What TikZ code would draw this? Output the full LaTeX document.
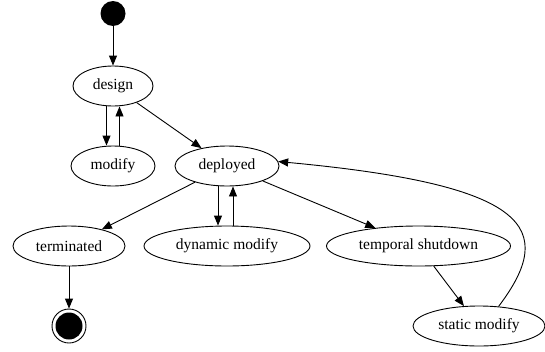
\documentclass[tikz,border=0pt]{standalone}
\usepackage{fontspec}
\setmainfont{Liberation Serif}
\usetikzlibrary{shapes.geometric,arrows.meta}
\begin{document}
\begin{tikzpicture}[x=1pt,y=-1pt,
  state/.style={ellipse,draw,line width=0.9pt,inner sep=0pt,minimum height=40pt,font=\fontsize{15.5}{18}\selectfont},
  conn/.style={line width=0.9pt,-{Triangle[length=10pt,width=8pt]}},
  every node/.style={}]
\useasboundingbox (0,0) rectangle (545,351);
\node[circle,fill=black,inner sep=0pt,minimum size=25pt] (start) at (113,13.5) {};
\node[state,minimum width=80pt] (design) at (113,86) {design};
\node[state,minimum width=84pt] (modify) at (113,166) {modify};
\node[state,minimum width=104pt] (deployed) at (227,166) {deployed};
\node[state,minimum width=112pt] (terminated) at (69,246) {terminated};
\node[state,minimum width=166pt] (dyn) at (227,246) {dynamic modify};
\node[state,minimum width=184pt] (temp) at (418.5,246) {temporal shutdown};
\node[state,minimum width=132pt] (static) at (479,326) {static modify};
\node[circle,draw,line width=0.9pt,inner sep=0pt,minimum size=34pt] (end) at (69,326) {};
\node[circle,fill=black,inner sep=0pt,minimum size=27pt] (endin) at (69,326) {};
\draw[conn] (start) -- (design);
\draw[conn] ([xshift=-6.5pt]design.south) -- ([xshift=-6.5pt]modify.north);
\draw[conn] ([xshift=6.5pt]modify.north) -- ([xshift=6.5pt]design.south);
\draw[conn] (design) -- (deployed);
\draw[conn] (deployed) -- (terminated);
\draw[conn] ([xshift=-9pt]deployed.south) -- ([xshift=-9pt]dyn.north);
\draw[conn] ([xshift=6pt]dyn.north) -- ([xshift=6pt]deployed.south);
\draw[conn] (deployed) -- (temp);
\draw[conn] (temp) -- (static);
\draw[conn] (terminated) -- (end);
\draw[conn] (static.45) .. controls (558,228) and (530,185) .. (deployed.5);
\end{tikzpicture}
\end{document}
